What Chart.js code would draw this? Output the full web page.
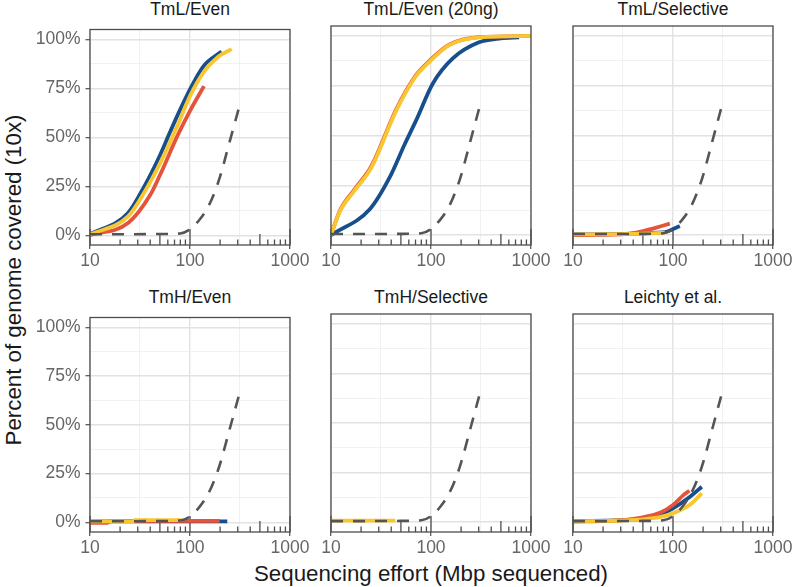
<!DOCTYPE html>
<html>
<head>
<meta charset="utf-8">
<script src="https://cdn.jsdelivr.net/npm/chart.js@4.4.1/dist/chart.umd.min.js"></script>
<style>
  body { margin: 0; background: #fff; }
  #wrap { position: relative; width: 794px; height: 587px; overflow: hidden; font-family: "Liberation Sans", Arial, sans-serif; }
  #wrap canvas { position: absolute; }
  .strip { position: absolute; width: 200px; text-align: center; font-size: 17.5px; line-height: 20px; color: #1a1a1a; white-space: nowrap; }
  .axis-title { position: absolute; font-size: 22.3px; line-height: 24px; color: #1a1a1a; white-space: nowrap; }
</style>
</head>
<body>
<div id="wrap">
  <div class="axis-title" id="xTitle" style="left:131px; width:600px; top:562px; text-align:center;">Sequencing effort (Mbp sequenced)</div>
  <div class="axis-title" id="yTitle" style="left:14px; top:280px; transform: translate(-50%, -50%) rotate(-90deg);">Percent of genome covered (10x)</div>
</div>
<script>
// ---- data (x = Mbp sequenced, y = % of genome covered at 10x) ----
const panelTitles = ['TmL/Even', 'TmL/Even (20ng)', 'TmL/Selective', 'TmH/Even', 'TmH/Selective', 'Leichty et al.'];

const xTickValues = [10, 100, 1000];
const xMinorValues = [31.6, 316];
const yTickValues = [0, 25, 50, 75, 100];
const yMinorValues = [12.5, 37.5, 62.5, 87.5];
const logTickValues = [10, 20, 30, 40, 50, 60, 70, 80, 90, 100, 200, 300, 400, 500, 600, 700, 800, 900, 1000];

// dashed reference curve, same in every panel
const expectedCurve = [[10, 0.5], [20, 0.5], [50, 0.6], [80, 0.9], [100, 3], [125, 8], [150, 14], [175, 21.5], [200, 30], [250, 48], [320, 68]];

const tmlEvenBlue = [[10, 0.5], [24, 11.3], [35.5, 25.6], [50, 40.7], [63, 52.5], [76, 61.8], [100, 74.4], [136, 86.2], [207, 93.8]];
const tmlEvenRed = [[10, 0], [24, 6.2], [40, 20.5], [50, 30.6], [75, 50.8], [100, 63.5], [138, 76.1]];
const tmlEvenYellow = [[10, 0.3], [24, 9.6], [35.5, 22.5], [50, 36.5], [76, 56.7], [100, 71], [136, 83], [190, 91], [261, 95]];

const tml20Blue = [[10, 0], [24.4, 13], [38.6, 29], [55, 46], [71, 57.6], [104, 76], [165, 88.7], [302, 96.8], [500, 98.8], [760, 99.3]];
const tml20Red = [[10, 0], [12.3, 12.4], [17, 22.6], [25.4, 34.7], [45, 63.3], [70, 80], [96.6, 87.5], [153, 95.7], [302, 99.4], [1000, 100]];
const tml20Yellow = [[10, 0], [12.3, 12], [17, 22], [25.4, 34], [45, 62.6], [70, 79.5], [96.6, 87], [153, 95.5], [302, 99.3], [1000, 100]];

const tmlSelBlue = [[10, 0.3], [83, 1.5], [100, 3], [117, 4.5]];
const tmlSelRed = [[10, 0], [30, 0.3], [43, 1.2], [68, 3.7], [93, 5.7]];
const tmlSelYellow = [[10, 0.3], [30, 0.5], [60, 0.8], [83, 1.2]];

const tmhEvenBlue = [[10, 0.4], [236, 0.4]];
const tmhEvenRed = [[10, -0.3], [15, -0.3], [16, 0.6], [198, 0.7]];
const tmhEvenYellow = [[10, 0.4], [27, 0.4], [28, 1.1], [82, 1.1]];

const tmhSelBlue = [];
const tmhSelRed = [];
const tmhSelYellow = [[10, 0.7], [44, 0.7]];

const leichtyBlue = [[10, 0.5], [50, 1.6], [75, 3.8], [100, 6.9], [148, 12.8], [194, 17.8]];
const leichtyRed = [[10, 0.3], [30, 0.9], [50, 2.4], [75, 4.8], [100, 8.6], [127, 13.6], [146, 15.8]];
const leichtyYellow = [[10, 0.5], [20, 0.6], [30, 0.8], [50, 1.4], [75, 2.6], [100, 4.4], [150, 9], [194, 14.5]];

// ---- layout ----
const colLeft = [90, 331, 573];
const rowTop = [26, 314];
const rowHeight = [219, 218];
const plotWidth = 200;

const colors = { blue: '#174f8c', red: '#e5533b', yellow: '#f8c630', ref: '#555555' };
const tickFont = { family: 'Liberation Sans', size: 17.5 };

const panels = [
    { blue: tmlEvenBlue, red: tmlEvenRed, yellow: tmlEvenYellow },
    { blue: tml20Blue, red: tml20Red, yellow: tml20Yellow },
    { blue: tmlSelBlue, red: tmlSelRed, yellow: tmlSelYellow },
    { blue: tmhEvenBlue, red: tmhEvenRed, yellow: tmhEvenYellow },
    { blue: tmhSelBlue, red: tmhSelRed, yellow: tmhSelYellow },
    { blue: leichtyBlue, red: leichtyRed, yellow: leichtyYellow }
];

const toXY = arr => arr.map(p => ({ x: p[0], y: p[1] }));

// panel border + log ticks along the bottom
const panelFrame = {
    id: 'panelFrame',
    beforeDatasetsDraw(chart) {
        const ctx = chart.ctx, area = chart.chartArea, xs = chart.scales.x;
        ctx.save();
        ctx.strokeStyle = '#4d4d4d';
        ctx.lineWidth = 1.3;
        logTickValues.forEach(v => {
            const lead = Math.round(v / Math.pow(10, Math.floor(Math.log10(v) + 1e-9)));
            const len = lead === 1 ? 16 : (lead === 5 ? 11 : 5.5);
            const px = xs.getPixelForValue(v);
            ctx.beginPath();
            ctx.moveTo(px, area.bottom);
            ctx.lineTo(px, area.bottom - len);
            ctx.stroke();
        });
        ctx.restore();
    },
    afterDraw(chart) {
        const ctx = chart.ctx, a = chart.chartArea;
        ctx.save();
        ctx.strokeStyle = '#4d4d4d';
        ctx.lineWidth = 1.3;
        ctx.strokeRect(a.left, a.top, a.right - a.left, a.bottom - a.top);
        ctx.restore();
    }
};

const wrap = document.getElementById('wrap');

panels.forEach((p, i) => {
    const col = i % 3, row = Math.floor(i / 3);
    const L = col === 0 ? 60 : 20, T = 12, R = 22, B = 32;
    const yAxisW = col === 0 ? L : 10;
    const px = colLeft[col], py = rowTop[row], ph = rowHeight[row];

    const strip = document.createElement('div');
    strip.className = 'strip';
    strip.style.left = px + 'px';
    strip.style.top = (py - 27) + 'px';
    strip.textContent = panelTitles[i];
    wrap.appendChild(strip);

    const canvas = document.createElement('canvas');
    canvas.width = plotWidth + L + R;
    canvas.height = ph + T + B;
    canvas.style.left = (px - L) + 'px';
    canvas.style.top = (py - T) + 'px';
    wrap.appendChild(canvas);

    const isMinor = c => c.tick && c.tick.minor;

    new Chart(canvas.getContext('2d'), {
        type: 'line',
        data: {
            datasets: [
                { data: toXY(expectedCurve), borderColor: colors.ref, borderWidth: 2.6, borderDash: [12, 10] },
                { data: toXY(p.yellow), borderColor: colors.yellow, borderWidth: 3.8 },
                { data: toXY(p.red), borderColor: colors.red, borderWidth: 3.8 },
                { data: toXY(p.blue), borderColor: colors.blue, borderWidth: 3.8 }
            ]
        },
        options: {
            responsive: false,
            animation: false,
            devicePixelRatio: 1,
            layout: { padding: { left: L - yAxisW, right: R, top: T, bottom: 0 } },
            plugins: { legend: { display: false }, tooltip: { enabled: false } },
            elements: {
                point: { radius: 0 },
                line: { cubicInterpolationMode: 'monotone', borderCapStyle: 'butt', fill: false }
            },
            scales: {
                x: {
                    type: 'logarithmic',
                    min: 10,
                    max: 1000,
                    afterBuildTicks: s => {
                        s.ticks = xTickValues.map(v => ({ value: v }))
                            .concat(xMinorValues.map(v => ({ value: v, minor: true })))
                            .sort((a, b) => a.value - b.value);
                    },
                    afterFit: s => { s.height = B; },
                    border: { display: false },
                    grid: {
                        color: c => isMinor(c) ? '#eeeeee' : '#e2e2e2',
                        lineWidth: c => isMinor(c) ? 0.8 : 1.4,
                        tickColor: c => isMinor(c) ? 'rgba(0,0,0,0)' : '#4d4d4d',
                        tickLength: 4,
                        tickWidth: 1.2
                    },
                    ticks: {
                        autoSkip: false,
                        maxRotation: 0,
                        padding: 2,
                        color: '#666666',
                        font: tickFont,
                        callback: (v, idx, ticks) => ticks[idx].minor ? '' : String(v)
                    }
                },
                y: {
                    type: 'linear',
                    min: -5,
                    max: 105,
                    afterBuildTicks: s => {
                        s.ticks = yTickValues.map(v => ({ value: v }))
                            .concat(yMinorValues.map(v => ({ value: v, minor: true })))
                            .sort((a, b) => a.value - b.value);
                    },
                    afterFit: s => { s.width = yAxisW; },
                    border: { display: false },
                    grid: {
                        color: c => isMinor(c) ? '#eeeeee' : '#e2e2e2',
                        lineWidth: c => isMinor(c) ? 0.8 : 1.4,
                        tickColor: c => isMinor(c) ? 'rgba(0,0,0,0)' : '#4d4d4d',
                        drawTicks: col === 0,
                        tickLength: 4.5,
                        tickWidth: 1.2
                    },
                    ticks: {
                        display: col === 0,
                        autoSkip: false,
                        padding: 5,
                        color: '#666666',
                        font: tickFont,
                        callback: (v, idx, ticks) => ticks[idx].minor ? '' : v + '%'
                    }
                }
            }
        },
        plugins: [panelFrame]
    });
});
</script>
</body>
</html>
